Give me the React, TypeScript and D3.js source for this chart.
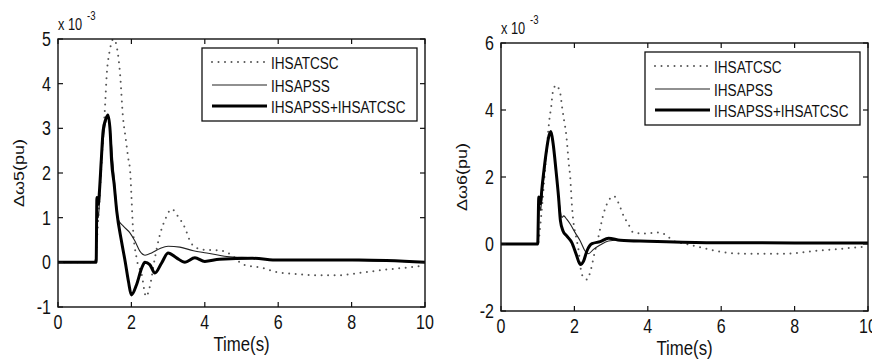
import * as d3 from 'd3';

// time axis ticks / labels
const xTicks = [0, 2, 4, 6, 8, 10];
const leftYTicks = [-1, 0, 1, 2, 3, 4, 5];
const rightYTicks = [-2, 0, 2, 4, 6];
const seriesNames = ['IHSATCSC', 'IHSAPSS', 'IHSAPSS+IHSATCSC'];

// left panel (Δω5), values x 10^-3
const leftTcscT = [0, 1.0, 1.1, 1.2, 1.28, 1.33, 1.4, 1.46, 1.5, 1.55, 1.6, 1.69, 1.77, 1.84, 1.91, 1.97, 2.0, 2.04, 2.14, 2.28, 2.4, 2.5, 2.64, 2.78, 2.92, 3.1, 3.27, 3.46, 3.6, 3.78, 4.0, 4.4, 4.7, 5.05, 5.6, 5.96, 6.5, 7.0, 7.6, 8.3, 8.86, 9.6, 10];
const leftTcscV = [0, 0, 1.0, 2.4, 3.47, 4.23, 4.7, 4.92, 5.0, 4.97, 4.83, 4.23, 3.25, 2.8, 2.35, 2.0, 1.5, 0.8, 0.1, -0.27, -0.77, -0.55, 0.1, 0.63, 0.96, 1.19, 1.03, 0.77, 0.47, 0.32, 0.28, 0.27, 0.18, -0.05, -0.13, -0.22, -0.26, -0.29, -0.29, -0.23, -0.17, -0.11, -0.07];
const leftPssT = [0, 1.04, 1.07, 1.1, 1.15, 1.2, 1.27, 1.36, 1.43, 1.5, 1.57, 1.64, 1.78, 1.96, 2.1, 2.23, 2.37, 2.55, 2.78, 3.0, 3.32, 3.69, 4.05, 4.6, 5.3, 6.0, 8.0, 10];
const leftPssV = [0, 0, 1.2, 1.0, 1.7, 2.4, 3.0, 3.25, 2.9, 2.2, 1.5, 0.96, 0.81, 0.66, 0.47, 0.25, 0.16, 0.21, 0.31, 0.36, 0.34, 0.26, 0.21, 0.13, 0.1, 0.05, 0.04, 0.0];
const leftBothT = [0, 1.04, 1.06, 1.1, 1.13, 1.18, 1.23, 1.3, 1.36, 1.42, 1.46, 1.53, 1.6, 1.73, 1.83, 1.92, 2.0, 2.14, 2.28, 2.37, 2.5, 2.64, 2.82, 3.0, 3.23, 3.46, 3.73, 4.0, 4.4, 5.3, 6.0, 8.2, 10];
const leftBothV = [0, 0, 1.45, 1.3, 1.6, 2.3, 2.95, 3.2, 3.3, 2.95, 2.27, 1.75, 1.15, 0.47, 0.02, -0.43, -0.73, -0.5, -0.13, 0.0, -0.05, -0.24, -0.02, 0.21, 0.1, 0.0, 0.1, 0.02, 0.07, 0.09, 0.05, 0.05, 0.0];

// right panel (Δω6), values x 10^-3
const rightTcscT = [0, 1.0, 1.1, 1.2, 1.32, 1.37, 1.41, 1.5, 1.61, 1.66, 1.72, 1.77, 1.81, 1.84, 1.89, 1.93, 1.97, 2.05, 2.11, 2.2, 2.34, 2.45, 2.54, 2.67, 2.79, 2.93, 3.07, 3.2, 3.34, 3.47, 3.61, 3.93, 4.2, 4.34, 4.52, 4.7, 5.05, 5.43, 5.79, 6.15, 6.7, 7.8, 8.15, 8.7, 9.24, 9.78, 10];
const rightTcscV = [0, 0, 0.9, 2.2, 3.73, 4.12, 4.52, 4.74, 4.52, 4.12, 3.68, 3.33, 2.88, 2.48, 1.94, 1.19, 0.69, 0.19, -0.16, -0.9, -1.06, -0.76, -0.31, 0.29, 0.89, 1.29, 1.43, 1.23, 0.84, 0.59, 0.34, 0.31, 0.34, 0.34, 0.24, 0.09, 0.0, -0.1, -0.19, -0.26, -0.29, -0.29, -0.26, -0.19, -0.15, -0.09, -0.08];
const rightPssT = [0, 1.0, 1.04, 1.08, 1.12, 1.18, 1.25, 1.3, 1.36, 1.42, 1.5, 1.58, 1.66, 1.71, 1.79, 1.89, 2.02, 2.16, 2.29, 2.38, 2.52, 2.7, 2.93, 3.25, 3.6, 4.5, 6.0, 10];
const rightPssV = [0, 0, 1.2, 1.0, 1.5, 2.1, 2.8, 3.15, 3.3, 2.95, 2.15, 1.3, 0.79, 0.84, 0.74, 0.59, 0.34, 0.09, -0.21, -0.29, -0.16, -0.03, 0.09, 0.12, 0.1, 0.06, 0.03, 0.02];
const rightBothT = [0, 1.0, 1.03, 1.08, 1.11, 1.17, 1.24, 1.3, 1.36, 1.42, 1.5, 1.57, 1.62, 1.69, 1.79, 1.93, 2.05, 2.16, 2.25, 2.34, 2.48, 2.7, 2.93, 3.25, 4.0, 5.6, 10];
const rightBothV = [0, 0, 1.4, 1.2, 1.6, 2.2, 2.8, 3.2, 3.36, 3.0, 2.18, 1.38, 0.69, 0.39, 0.24, 0.04, -0.31, -0.61, -0.51, -0.21, 0.01, 0.07, 0.17, 0.11, 0.08, 0.04, 0.03];

const FONT = '"Liberation Sans", Arial, sans-serif';
const SX = 0.8; // glyphs in the picture are squeezed horizontally

const styles = [
  { stroke: '#555', width: 2, dash: '0 6.5', cap: 'round' },
  { stroke: '#222', width: 1.1, dash: undefined, cap: 'butt' },
  { stroke: '#000', width: 3, dash: undefined, cap: 'butt' },
];

function Txt({ x, y, size, anchor = 'start', rotate = false, children }: any) {
  return (
    <g transform={`translate(${x},${y}) scale(${SX},1)`}>
      <text
        transform={rotate ? 'rotate(-90)' : undefined}
        textAnchor={anchor}
        fontSize={size}
        fontFamily={FONT}
        fill="#111"
      >
        {children}
      </text>
    </g>
  );
}

function Panel({ id, x0, x1, y0, y1, yDomain, yTicks, yLabel, series }: any) {
  const x = d3.scaleLinear().domain([0, 10]).range([x0, x1]);
  const y = d3.scaleLinear().domain(yDomain).range([y1, y0]);
  const line = d3
    .line<[number, number]>()
    .x(d => x(d[0]))
    .y(d => y(d[1]))
    .curve(d3.curveMonotoneX);

  const legX = x1 - 223;
  const legY = y0 + 9;
  const rows = [15, 38, 59];

  return (
    <g>
      <defs>
        <clipPath id={id}>
          <rect x={x0} y={y0 - 1} width={x1 - x0} height={y1 - y0 + 1} />
        </clipPath>
      </defs>
      <g clipPath={`url(#${id})`}>
        {series.map((s: any, i: number) => (
          <path
            key={i}
            d={line(s.t.map((t: number, k: number) => [t, s.v[k]]) as any) || ''}
            fill="none"
            stroke={styles[i].stroke}
            strokeWidth={styles[i].width}
            strokeDasharray={styles[i].dash}
            strokeLinecap={styles[i].cap as any}
            strokeLinejoin="round"
          />
        ))}
      </g>
      <rect x={x0} y={y0} width={x1 - x0} height={y1 - y0} fill="none" stroke="#111" strokeWidth={1.4} />
      {xTicks.map(t => (
        <g key={'x' + t}>
          <line x1={x(t)} x2={x(t)} y1={y1} y2={y1 - 5} stroke="#111" strokeWidth={1.2} />
          <line x1={x(t)} x2={x(t)} y1={y0} y2={y0 + 5} stroke="#111" strokeWidth={1.2} />
          <Txt x={x(t)} y={y1 + 22} size={20} anchor="middle">{t}</Txt>
        </g>
      ))}
      {yTicks.map((v: number) => (
        <g key={'y' + v}>
          <line x1={x0} x2={x0 + 5} y1={y(v)} y2={y(v)} stroke="#111" strokeWidth={1.2} />
          <line x1={x1} x2={x1 - 5} y1={y(v)} y2={y(v)} stroke="#111" strokeWidth={1.2} />
          <Txt x={x0 - 7} y={y(v) + 7} size={20} anchor="end">{v}</Txt>
        </g>
      ))}
      <Txt x={x0} y={y0 - 9} size={16}>x 10</Txt>
      <Txt x={x0 + 29} y={y0 - 19} size={12}>-3</Txt>
      <Txt x={x0 - 34} y={(y0 + y1) / 2} size={18} anchor="middle" rotate>{yLabel}</Txt>
      <Txt x={(x0 + x1) / 2} y={y1 + 44} size={21} anchor="middle">Time(s)</Txt>

      <rect x={legX} y={legY} width={215} height={73} fill="#fff" stroke="#111" strokeWidth={1.3} />
      {seriesNames.map((name, i) => (
        <g key={name}>
          <line
            x1={legX + 10}
            x2={legX + 65}
            y1={legY + rows[i] - 1}
            y2={legY + rows[i] - 1}
            stroke={styles[i].stroke}
            strokeWidth={styles[i].width}
            strokeDasharray={styles[i].dash}
            strokeLinecap={styles[i].cap as any}
          />
          <Txt x={legX + 69} y={legY + rows[i] + 6} size={17}>{name}</Txt>
        </g>
      ))}
    </g>
  );
}

export default function App() {
  const leftSeries = [
    { t: leftTcscT, v: leftTcscV },
    { t: leftPssT, v: leftPssV },
    { t: leftBothT, v: leftBothV },
  ];
  const rightSeries = [
    { t: rightTcscT, v: rightTcscV },
    { t: rightPssT, v: rightPssV },
    { t: rightBothT, v: rightBothV },
  ];
  return (
    <svg
      width={872}
      height={359}
      style={{ position: 'absolute', left: 0, top: 0, background: '#fff' }}
    >
      <rect width={872} height={359} fill="#fff" />
      <Panel id="clipL" x0={58} x1={425} y0={39} y1={307} yDomain={[-1, 5]} yTicks={leftYTicks} yLabel="Δω5(pu)" series={leftSeries} />
      <Panel id="clipR" x0={501} x1={868} y0={43} y1={311} yDomain={[-2, 6]} yTicks={rightYTicks} yLabel="Δω6(pu)" series={rightSeries} />
    </svg>
  );
}
